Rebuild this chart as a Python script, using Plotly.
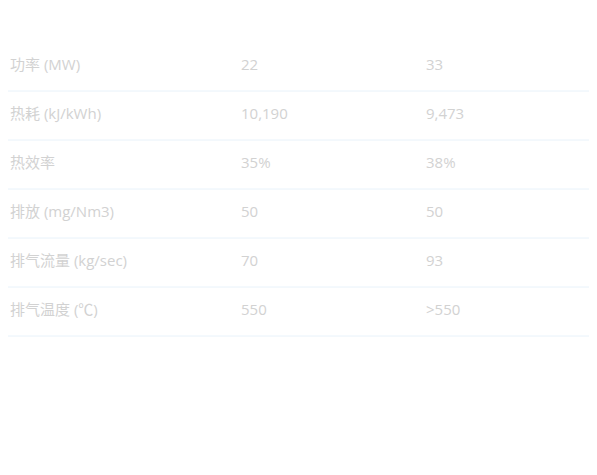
import plotly.graph_objects as go

labels = ["功率 (MW)", "热耗 (kJ/kWh)", "热效率", "排放 (mg/Nm3)", "排气流量 (kg/sec)", "排气温度 (℃)"]
col_a = ["22", "10,190", "35%", "50", "70", "550"]
col_b = ["33", "9,473", "38%", "50", "93", ">550"]

W, H = 597, 475
top, row_h = 34, 49
col_x = [2, 233, 418]

rows = list(range(len(labels)))
r0 = -0.5 - top / row_h
r1 = r0 + H / row_h

fig = go.Figure()
font = dict(family="Open Sans, Noto Sans CJK SC, sans-serif", size=15, color="#d2d2d2")
for x, col in zip(col_x, [labels, col_a, col_b]):
    fig.add_trace(go.Scatter(x=[x] * len(col), y=rows, text=col, mode="text",
                             textposition="middle right", textfont=font,
                             hoverinfo="skip", showlegend=False))
for i in rows:
    fig.add_shape(type="line", xref="paper", yref="y", x0=0, x1=1,
                  y0=i + 0.5, y1=i + 0.5, line=dict(color="#e8f2fa", width=1))
fig.update_layout(width=W, height=H, margin=dict(l=0, r=0, t=0, b=0),
                  paper_bgcolor="white", plot_bgcolor="white",
                  xaxis=dict(range=[0, W], visible=False, fixedrange=True),
                  yaxis=dict(range=[r1, r0], visible=False, fixedrange=True))
fig.write_html("out.html")
